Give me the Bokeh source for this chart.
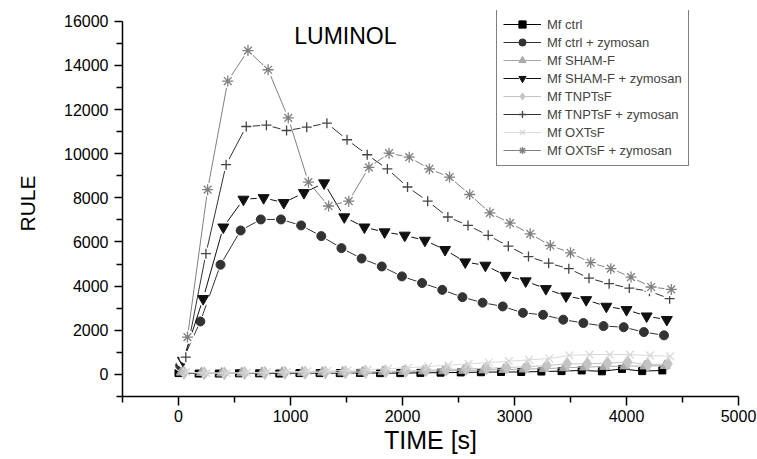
from bokeh.plotting import figure
from bokeh.models import FixedTicker, Legend, LegendItem, Label, Range1d
from bokeh.embed import file_html
from bokeh.resources import INLINE

# ---- data ----
TIME = [0, 180, 360, 540, 720, 900, 1080, 1260, 1440, 1620, 1800, 1980, 2160,
        2340, 2520, 2700, 2880, 3060, 3240, 3420, 3600, 3780, 3960, 4140, 4320]

SERIES = ["Mf ctrl", "Mf ctrl + zymosan", "Mf SHAM-F", "Mf SHAM-F + zymosan",
          "Mf TNPTsF", "Mf TNPTsF + zymosan", "Mf OXTsF", "Mf OXTsF + zymosan"]

# reading delay of each sample within one measuring cycle (s)
TIME_SHIFT = [0, 15, 25, 40, 50, 65, 70, 80]

ctrl = [60, 40, 40, 50, 50, 40, 60, 60, 60, 70, 60, 60, 70, 80, 90, 100, 110,
        110, 130, 150, 180, 140, 250, 150, 180]
ctrl_zym = [400, 2400, 4970, 6520, 7020, 7020, 6750, 6265, 5720, 5250, 4890,
            4440, 4140, 3830, 3500, 3250, 3080, 2790, 2700, 2480, 2330, 2190,
            2140, 1920, 1770]
sham = [100, 80, 60, 70, 80, 90, 90, 100, 100, 110, 120, 130, 150, 160, 180,
        200, 220, 240, 260, 300, 330, 360, 380, 380, 400]
sham_zym = [630, 3430, 6670, 7930, 8000, 7780, 8230, 8670, 7130, 6670, 6450,
            6300, 6070, 5650, 5090, 4940, 4480, 4230, 3880, 3550, 3380, 3080,
            2930, 2640, 2480]
tnp = [80, 50, 50, 60, 70, 80, 80, 90, 100, 120, 140, 160, 190, 220, 250, 280,
       310, 350, 400, 480, 480, 510, 560, 440, 480]
tnp_zym = [780, 5470, 9500, 11230, 11290, 11050, 11200, 11380, 10630, 9950,
           9310, 8490, 7850, 7130, 6750, 6300, 5810, 5340, 5040, 4790, 4360,
           4110, 3910, 3770, 3430]
oxt = [100, 60, 60, 80, 100, 120, 140, 160, 180, 220, 260, 300, 360, 420, 480,
       540, 600, 660, 720, 860, 900, 900, 900, 860, 820]
oxt_zym = [1690, 8370, 13290, 14670, 13800, 11620, 8710, 7630, 7850, 9380,
           10020, 9840, 9310, 8940, 8150, 7320, 6850, 6370, 5840, 5510, 5060,
           4790, 4410, 3960, 3850]

VALUES = [ctrl, ctrl_zym, sham, sham_zym, tnp, tnp_zym, oxt, oxt_zym]

X_TICKS = [0, 1000, 2000, 3000, 4000, 5000]
X_MINOR = [-500, 500, 1500, 2500, 3500, 4500]
Y_TICKS = [0, 2000, 4000, 6000, 8000, 10000, 12000, 14000, 16000]
Y_MINOR = [-1000, 1000, 3000, 5000, 7000, 9000, 11000, 13000, 15000]

# ---- styles ----
MARKERS = ["square", "circle", "triangle", "inverted_triangle", "diamond",
           "cross", "x", "asterisk"]
SIZES = [7, 9, 10, 11, 13, 10, 11, 11]
MCOL = ["#000000", "#333333", "#a9a9a9", "#111111", "#c4c4c4", "#444444",
        "#d9d9d9", "#808080"]
LCOL = ["#000000", "#333333", "#a9a9a9", "#111111", "#c4c4c4", "#333333",
        "#d9d9d9", "#808080"]
HALO = [False, True, False, True, False, True, False, True]

FONT = "Liberation Sans"

p = figure(width=757, height=459, output_backend="svg", toolbar_location=None,
           x_range=Range1d(-500, 5000), y_range=Range1d(-1000, 16485),
           min_border_left=122, min_border_right=19, min_border_top=10,
           min_border_bottom=63)
p.outline_line_color = None
p.xgrid.visible = False
p.ygrid.visible = False
p.background_fill_color = "white"
p.border_fill_color = "white"

items = []
for name, vals, shift, mk, sz, mc, lc, halo in zip(SERIES, VALUES, TIME_SHIFT,
                                                    MARKERS, SIZES, MCOL, LCOL,
                                                    HALO):
    xs = [t + shift for t in TIME]
    rs = [p.line(xs, vals, line_color=lc, line_width=1)]
    if halo:
        # white gap so the line stops short of each symbol (Origin style)
        rs.append(p.scatter(xs, vals, marker="circle", size=sz + 3,
                            fill_color="white", line_color=None))
    rs.append(p.scatter(xs, vals, marker=mk, size=sz, fill_color=mc,
                        line_color=mc,
                        line_width=1.3 if mk in ("cross", "x", "asterisk") else 1))
    items.append(LegendItem(label=name, renderers=rs))

legend = Legend(items=items, location=(374, 230))
legend.border_line_color = "black"
legend.border_line_width = 1
legend.background_fill_color = "white"
legend.background_fill_alpha = 1
legend.label_text_font = FONT
legend.label_text_font_size = "13px"
legend.glyph_width = 38
legend.glyph_height = 18
legend.label_height = 18
legend.label_standoff = 6
legend.spacing = 0
legend.padding = 6
legend.margin = 0
p.add_layout(legend, "center")

for ax in (p.xaxis[0], p.yaxis[0]):
    ax.axis_line_width = 1.5
    ax.axis_line_color = "black"
    ax.major_tick_line_width = 1.5
    ax.minor_tick_line_width = 1.5
    ax.major_tick_in = 0
    ax.minor_tick_in = 0
    ax.major_label_text_font = FONT
    ax.major_label_text_font_size = "16px"
    ax.major_label_text_color = "black"
    ax.axis_label_text_font = FONT
    ax.axis_label_text_font_style = "normal"
    ax.axis_label_text_color = "black"

p.xaxis[0].ticker = FixedTicker(ticks=X_TICKS, minor_ticks=X_MINOR)
p.yaxis[0].ticker = FixedTicker(ticks=Y_TICKS, minor_ticks=Y_MINOR)
p.yaxis[0].bounds = (-1000, 16000)
p.xaxis[0].major_tick_out = 9
p.xaxis[0].minor_tick_out = 6
p.yaxis[0].major_tick_out = 8
p.yaxis[0].minor_tick_out = 6
p.xaxis[0].major_label_standoff = 4
p.yaxis[0].major_label_standoff = 6

p.yaxis[0].axis_label = "RULE"
p.yaxis[0].axis_label_text_font_size = "21px"
p.yaxis[0].axis_label_standoff = 22

p.xaxis[0].axis_label = "TIME [s]"
p.xaxis[0].axis_label_text_font_size = "25px"
p.xaxis[0].axis_label_standoff = 1

p.add_layout(Label(x=1490, y=15350, text="LUMINOL", text_font=FONT,
                   text_font_size="23px", text_align="center",
                   text_baseline="middle", text_color="black"))

open("out.html", "w").write(file_html(p, INLINE))
